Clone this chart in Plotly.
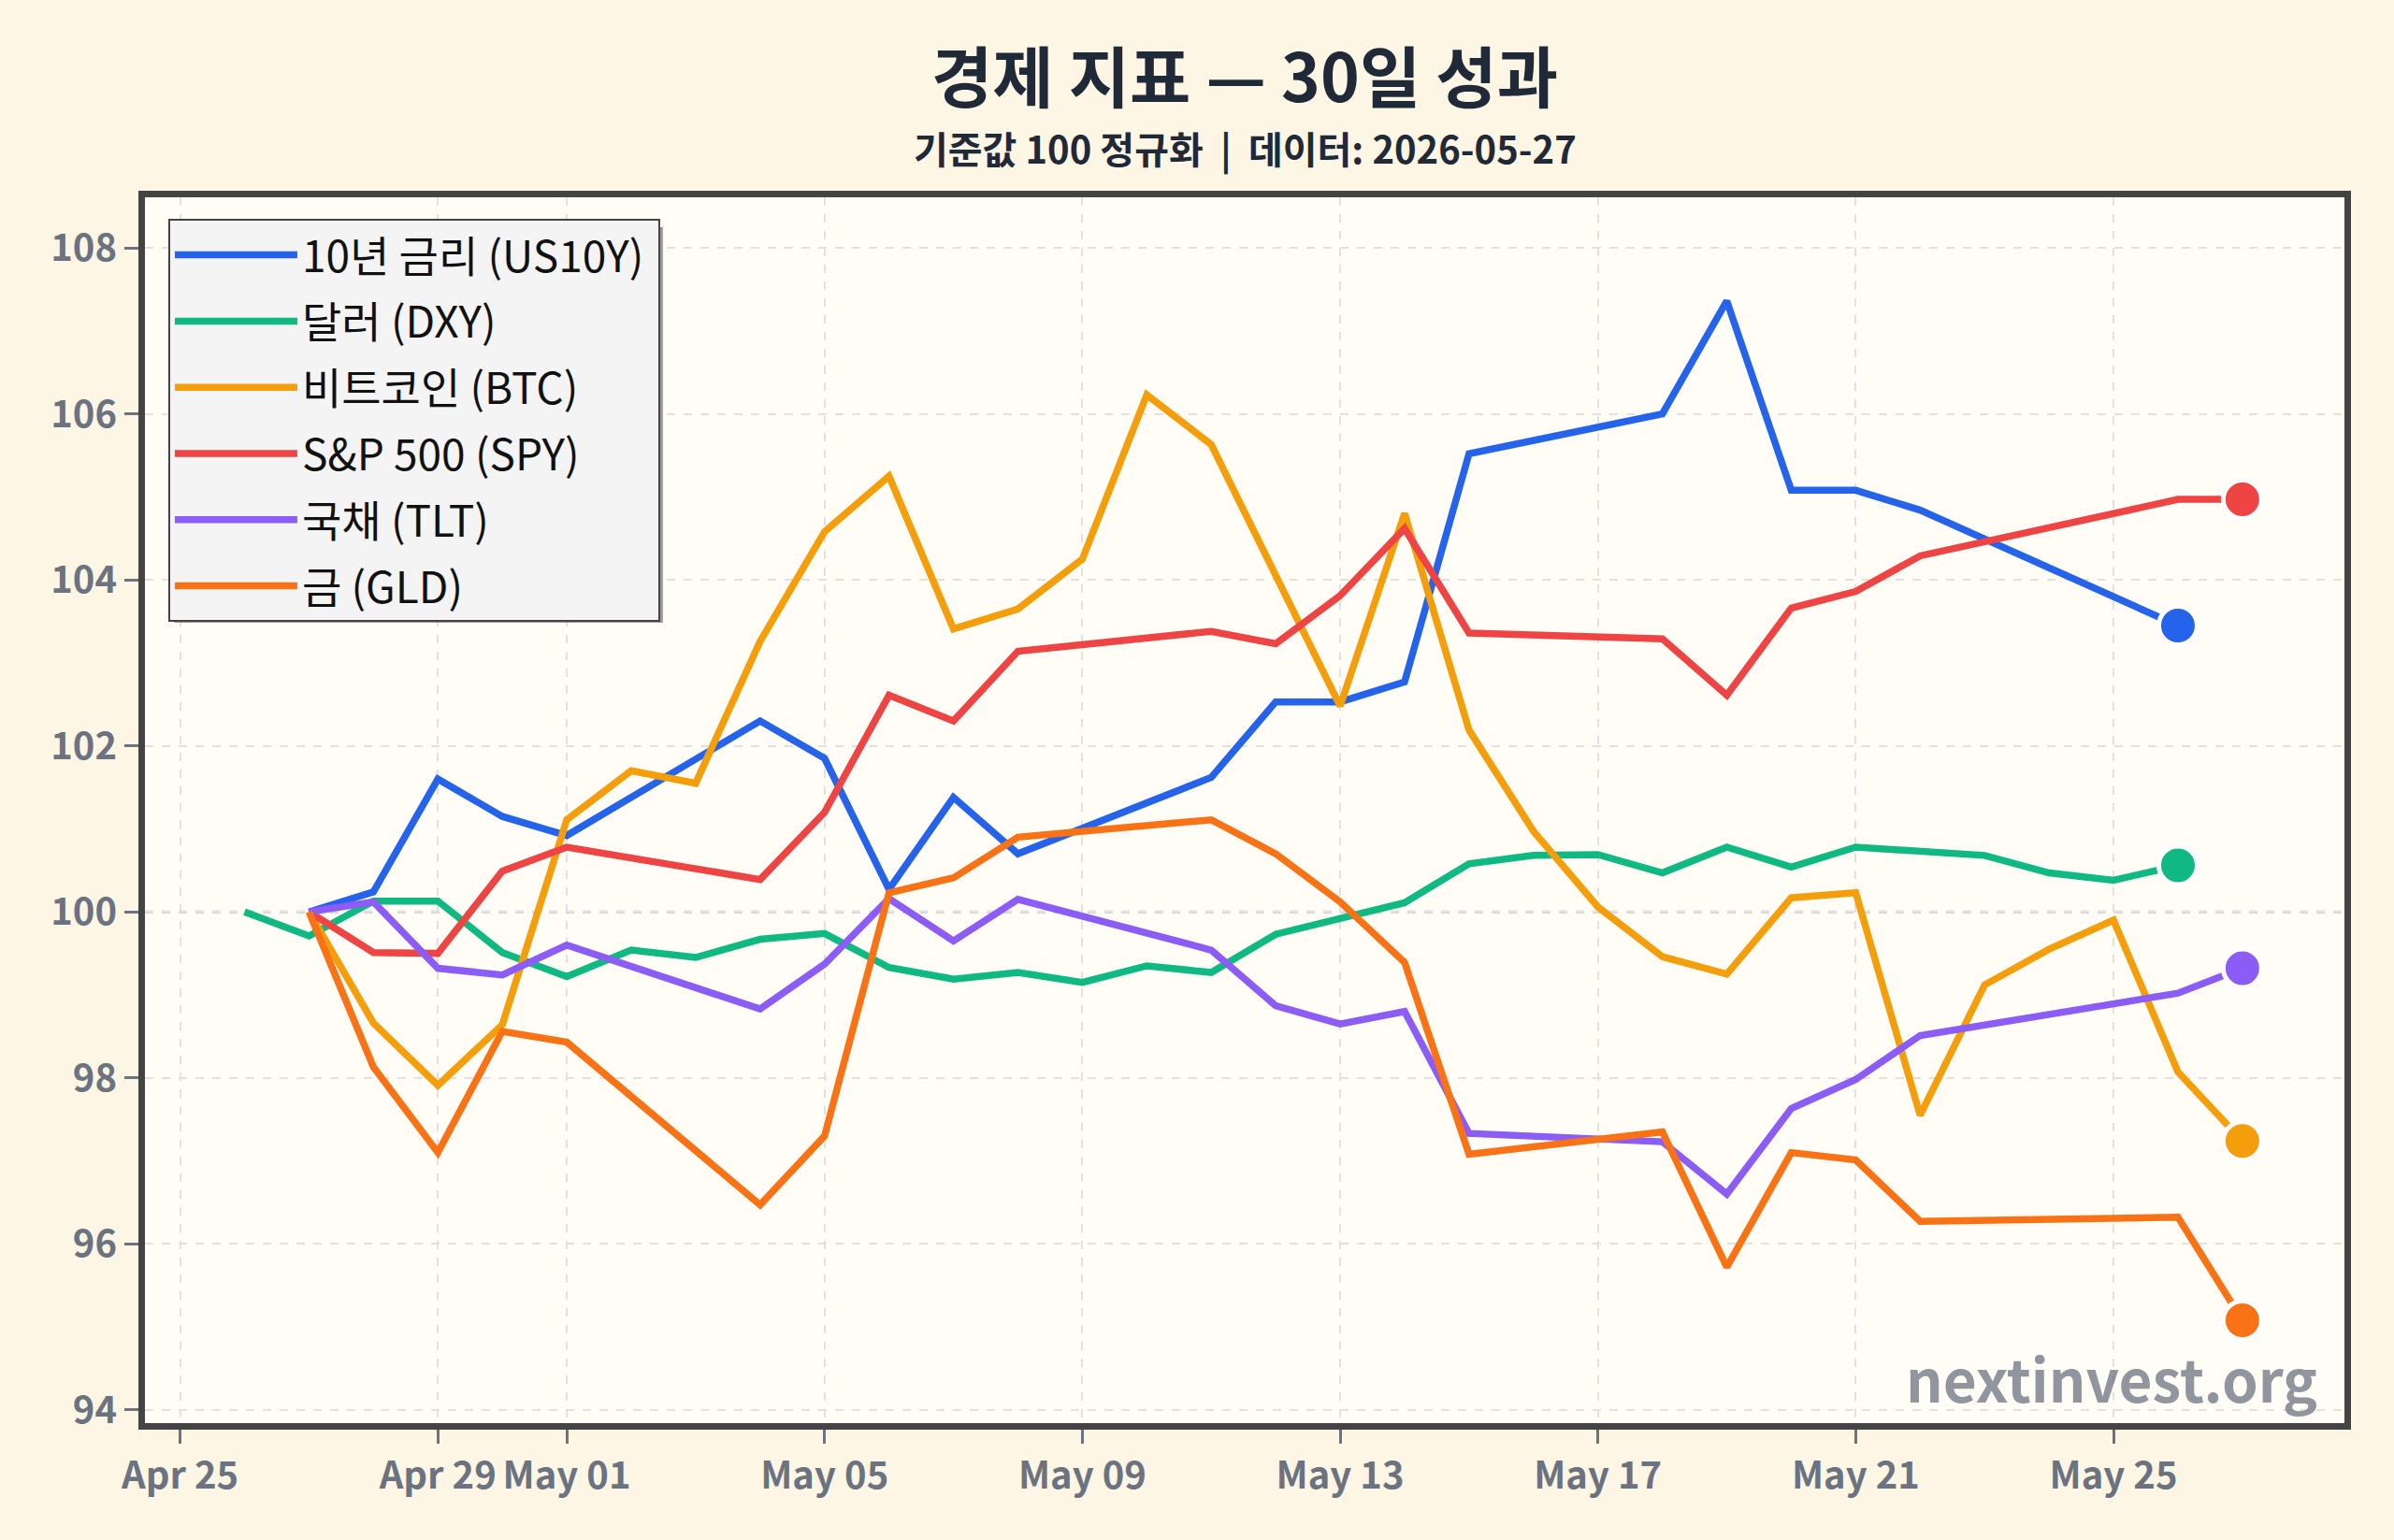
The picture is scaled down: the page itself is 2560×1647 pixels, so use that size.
import plotly.graph_objects as go

# ---------------- text ----------------
title_text = "경제 지표 — 30일 성과"
subtitle_text = "기준값 100 정규화 \u00a0|\u00a0 데이터: 2026-05-27"
watermark_text = "nextinvest.org"

# ---------------- series meta ----------------
series_names = ["10년 금리 (US10Y)", "달러 (DXY)", "비트코인 (BTC)",
                "S&P 500 (SPY)", "국채 (TLT)", "금 (GLD)"]
series_colors = ["#2563EB", "#10B981", "#F59E0B", "#EF4444", "#8B5CF6", "#F97316"]

# ---------------- data ----------------
us10y_dates = ["2026-04-27", "2026-04-28", "2026-04-29", "2026-04-30", "2026-05-01",
               "2026-05-04", "2026-05-05", "2026-05-06", "2026-05-07", "2026-05-08",
               "2026-05-11", "2026-05-12", "2026-05-13", "2026-05-14", "2026-05-15",
               "2026-05-18", "2026-05-19", "2026-05-20", "2026-05-21", "2026-05-22",
               "2026-05-26"]
us10y_vals = [100.0, 100.24, 101.60, 101.15, 100.92,
              102.30, 101.85, 100.27, 101.38, 100.70,
              101.62, 102.53, 102.53, 102.77, 105.52,
              106.00, 107.36, 105.08, 105.08, 104.84,
              103.45]

dxy_dates = ["2026-04-26", "2026-04-27", "2026-04-28", "2026-04-29", "2026-04-30",
             "2026-05-01", "2026-05-02", "2026-05-03", "2026-05-04", "2026-05-05",
             "2026-05-06", "2026-05-07", "2026-05-08", "2026-05-09", "2026-05-10",
             "2026-05-11", "2026-05-12", "2026-05-13", "2026-05-14", "2026-05-15",
             "2026-05-16", "2026-05-17", "2026-05-18", "2026-05-19", "2026-05-20",
             "2026-05-21", "2026-05-22", "2026-05-23", "2026-05-24", "2026-05-25",
             "2026-05-26"]
dxy_vals = [100.0, 99.71, 100.13, 100.13, 99.51,
            99.22, 99.54, 99.45, 99.67, 99.74,
            99.33, 99.19, 99.27, 99.15, 99.35,
            99.27, 99.73, 99.92, 100.11, 100.58,
            100.68, 100.69, 100.47, 100.78, 100.54,
            100.78, 100.73, 100.68, 100.47, 100.38,
            100.56]

btc_dates = ["2026-04-27", "2026-04-28", "2026-04-29", "2026-04-30", "2026-05-01",
             "2026-05-02", "2026-05-03", "2026-05-04", "2026-05-05", "2026-05-06",
             "2026-05-07", "2026-05-08", "2026-05-09", "2026-05-10", "2026-05-11",
             "2026-05-12", "2026-05-13", "2026-05-14", "2026-05-15", "2026-05-16",
             "2026-05-17", "2026-05-18", "2026-05-19", "2026-05-20", "2026-05-21",
             "2026-05-22", "2026-05-23", "2026-05-24", "2026-05-25", "2026-05-26",
             "2026-05-27"]
btc_vals = [100.0, 98.66, 97.91, 98.64, 101.11,
            101.70, 101.55, 103.26, 104.58, 105.25,
            103.41, 103.65, 104.25, 106.23, 105.63,
            104.05, 102.48, 104.80, 102.19, 100.97,
            100.06, 99.46, 99.25, 100.17, 100.23,
            97.55, 99.12, 99.55, 99.90, 98.07,
            97.24]

stock_dates = ["2026-04-27", "2026-04-28", "2026-04-29", "2026-04-30", "2026-05-01",
               "2026-05-04", "2026-05-05", "2026-05-06", "2026-05-07", "2026-05-08",
               "2026-05-11", "2026-05-12", "2026-05-13", "2026-05-14", "2026-05-15",
               "2026-05-18", "2026-05-19", "2026-05-20", "2026-05-21", "2026-05-22",
               "2026-05-26", "2026-05-27"]
spy_vals = [100.0, 99.51, 99.50, 100.49, 100.78,
            100.39, 101.20, 102.61, 102.30, 103.14,
            103.38, 103.23, 103.81, 104.62, 103.36,
            103.29, 102.61, 103.66, 103.86, 104.29,
            104.97, 104.97]
tlt_vals = [100.0, 100.12, 99.32, 99.24, 99.60,
            98.83, 99.37, 100.16, 99.65, 100.15,
            99.54, 98.87, 98.65, 98.80, 97.33,
            97.23, 96.60, 97.63, 97.98, 98.51,
            99.02, 99.32]
gld_vals = [100.0, 98.13, 97.10, 98.56, 98.43,
            96.47, 97.30, 100.23, 100.41, 100.90,
            101.11, 100.70, 100.12, 99.39, 97.08,
            97.35, 95.72, 97.10, 97.01, 96.27,
            96.32, 95.08]

x_tick_vals = ["2026-04-25", "2026-04-29", "2026-05-01", "2026-05-05", "2026-05-09",
               "2026-05-13", "2026-05-17", "2026-05-21", "2026-05-25"]
x_tick_text = ["Apr 25", "Apr 29", "May 01", "May 05", "May 09",
               "May 13", "May 17", "May 21", "May 25"]
y_tick_vals = [94, 96, 98, 100, 102, 104, 106, 108]
baseline_value = 100

series_x = [us10y_dates, dxy_dates, btc_dates, stock_dates, stock_dates, stock_dates]
series_y = [us10y_vals, dxy_vals, btc_vals, spy_vals, tlt_vals, gld_vals]

# ---------------- figure ----------------
FONT = "Noto Sans CJK KR"
fig = go.Figure()

for i, (name, color, xs, ys) in enumerate(zip(series_names, series_colors, series_x, series_y)):
    label = name + ("\u00a0" if i == 0 else "")
    fig.add_trace(go.Scatter(
        x=xs, y=ys, mode="lines", name=label,
        line=dict(color=color, width=7.5),
        legendgroup=f"g{i}",
    ))

for i, (color, xs, ys) in enumerate(zip(series_colors, series_x, series_y)):
    fig.add_trace(go.Scatter(
        x=[xs[-1]], y=[ys[-1]], mode="markers", showlegend=False,
        legendgroup=f"g{i}",
        marker=dict(color=color, size=41, line=dict(color="white", width=5)),
        cliponaxis=False,
    ))

axis_common = dict(
    showline=True, linecolor="#444444", linewidth=7, mirror=True,
    showgrid=True, gridcolor="#E1E1E1", gridwidth=2, griddash="dash",
    ticks="outside", ticklen=15, tickwidth=3, tickcolor="#6B7280",
    tickfont=dict(family=FONT, size=40, color="#6B7280", weight="bold"),
    zeroline=False,
)

fig.update_xaxes(
    type="date",
    range=["2026-04-24 10:55", "2026-05-28 14:00"],
    tickvals=x_tick_vals, ticktext=x_tick_text,
    **axis_common,
)
fig.update_yaxes(
    range=[93.84, 108.61],
    tickvals=y_tick_vals, ticktext=[str(v) for v in y_tick_vals],
    **axis_common,
)

# baseline 100 dashed
fig.add_shape(type="line", xref="paper", yref="y", x0=0, x1=1,
              y0=baseline_value, y1=baseline_value,
              line=dict(color="#C4C6CB", width=3, dash="dash"), layer="below")

# legend shadow
fig.add_shape(type="rect", xref="paper", yref="paper",
              x0=0.01318, x1=0.2355, y0=0.6529, y1=0.9756,
              fillcolor="rgba(90,90,90,0.6)", line=dict(width=0), layer="above")

fig.add_annotation(text=f"<b>{title_text}</b>", xref="paper", yref="paper",
                   x=0.5, y=1.1015, xanchor="center", yanchor="middle",
                   showarrow=False, font=dict(family=FONT, size=71, color="#1F2937"))
fig.add_annotation(text=f"<b>{subtitle_text}</b>", xref="paper", yref="paper",
                   x=0.5, y=1.0404, xanchor="center", yanchor="middle",
                   showarrow=False, font=dict(family=FONT, size=40, color="#1F2937"))
fig.add_annotation(text=f"<b>{watermark_text}</b>", xref="paper", yref="paper",
                   x=0.9885, y=0.0374, xanchor="right", yanchor="middle",
                   showarrow=False, font=dict(family=FONT, size=62, color="rgba(107,114,128,0.75)"))

fig.update_layout(
    width=2560, height=1647,
    margin=dict(l=155, r=53, t=211, b=125),
    paper_bgcolor="#FDF6E4",
    plot_bgcolor="#FFFDF6",
    showlegend=True,
    legend=dict(
        x=0.0106, y=0.9823, xanchor="left", yanchor="top",
        bgcolor="#F4F4F4", bordercolor="#444444", borderwidth=2,
        font=dict(family=FONT, size=46, color="#111111"),
        tracegroupgap=8, itemwidth=131,
    ),
    font=dict(family=FONT),
)

fig.write_html("out.html")
